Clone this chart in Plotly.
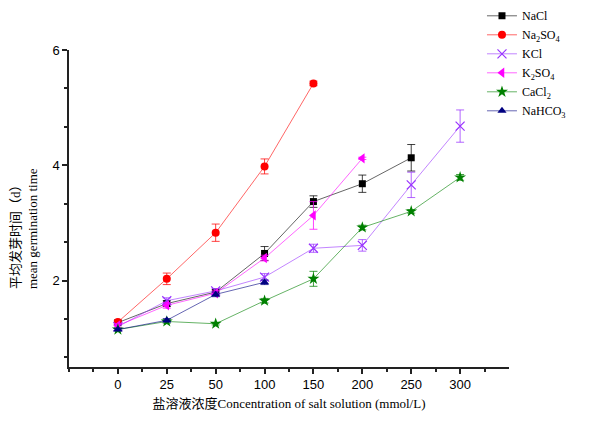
import plotly.graph_objects as go

conc_labels = ["0", "25", "50", "100", "150", "200", "250", "300"]

nacl = [1.27, 1.60, 1.80, 2.47, 3.37, 3.68, 4.13]
nacl_err = [0.03, 0.05, 0.04, 0.12, 0.10, 0.15, 0.23]

na2so4 = [1.28, 2.03, 2.83, 3.98, 5.42]
na2so4_err = [0.03, 0.10, 0.15, 0.13, 0.04]

kcl = [1.20, 1.65, 1.82, 2.06, 2.56, 2.61, 3.66, 4.68]
kcl_err = [0.03, 0.05, 0.04, 0.06, 0.07, 0.10, 0.22, 0.28]

k2so4 = [1.22, 1.57, 1.78, 2.39, 3.13, 4.12]
k2so4_err = [0.03, 0.05, 0.04, 0.05, 0.24, 0.02]

cacl2 = [1.15, 1.29, 1.25, 1.65, 2.03, 2.92, 3.20, 3.79]
cacl2_err = [0.02, 0.03, 0.02, 0.04, 0.13, 0.04, 0.03, 0.05]

nahco3 = [1.15, 1.31, 1.76, 1.97]
nahco3_err = [0.02, 0.03, 0.04, 0.04]

y_title_cn = "平均发芽时间（d）"
y_title_en = "mean germination time"
x_title = "盐溶液浓度Concentration of salt solution (mmol/L)"

series = [
    ("NaCl", nacl, nacl_err, "0,0,0", "square", 7),
    ("Na<sub>2</sub>SO<sub>4</sub>", na2so4, na2so4_err, "255,0,0", "circle", 8),
    ("KCl", kcl, kcl_err, "153,51,255", "x-thin-open", 9),
    ("K<sub>2</sub>SO<sub>4</sub>", k2so4, k2so4_err, "255,0,255", "triangle-left", 9),
    ("CaCl<sub>2</sub>", cacl2, cacl2_err, "0,128,0", "star", 9),
    ("NaHCO<sub>3</sub>", nahco3, nahco3_err, "0,0,128", "triangle-up", 8),
]

fig = go.Figure()
for name, vals, errs, rgb, sym, size in series:
    xs = list(range(len(vals)))
    solid = f"rgb({rgb})"
    fig.add_trace(go.Scatter(
        x=xs, y=vals, name=name, mode="lines+markers",
        line=dict(color=f"rgba({rgb},0.6)", width=1),
        marker=dict(symbol=sym, size=size, color=solid,
                    line=dict(color=solid, width=1.2 if "x" in sym else 0)),
        error_y=dict(type="data", array=errs, visible=True, color=f"rgba({rgb},0.75)",
                     thickness=1, width=4),
    ))

serif = "Liberation Serif, Times New Roman, Noto Sans CJK SC"

fig.update_layout(
    width=602, height=416,
    margin=dict(l=61, r=101, t=42, b=57, autoexpand=False),
    paper_bgcolor="white", plot_bgcolor="white",
    font=dict(family="Liberation Sans, Arial", size=13, color="#000000"),
    showlegend=True,
    legend=dict(x=0.9386, y=1.1536, xanchor="left", yanchor="top",
                font=dict(family=serif, size=12), itemwidth=30,
                bgcolor="rgba(0,0,0,0)", tracegroupgap=0),
    xaxis=dict(
        range=[-1, 8], tickmode="array", automargin=False,
        tickvals=list(range(len(conc_labels))), ticktext=conc_labels,
        showgrid=False, zeroline=False, showline=True, linecolor="#222222", linewidth=1.5,
        ticks="outside", ticklen=5, tickwidth=1.5, tickcolor="#222222",
        minor=dict(tickvals=[-1] + [i + 0.5 for i in range(-1, 8)], ticks="outside", ticklen=3,
                   tickwidth=1.5, tickcolor="#222222"),
        title=dict(text=x_title, font=dict(family=serif, size=13), standoff=8),
    ),
    yaxis=dict(
        range=[0.5, 6], tickmode="array", tickvals=[2, 4, 6], automargin=False,
        showgrid=False, zeroline=False, showline=True, linecolor="#222222", linewidth=1.5,
        ticks="outside", ticklen=5, tickwidth=1.5, tickcolor="#222222",
        minor=dict(tickvals=[2/3, 4/3, 8/3, 10/3, 14/3, 16/3], ticks="outside", ticklen=3,
                   tickwidth=1.5, tickcolor="#222222"),
    ),
    annotations=[dict(
        text=y_title_cn + "<br>" + y_title_en, textangle=-90, align="left",
        xref="paper", yref="paper", x=-0.101, y=0.437, xanchor="center", yanchor="middle",
        showarrow=False, font=dict(family=serif, size=13),
    )],
)

fig.write_html("out.html")
